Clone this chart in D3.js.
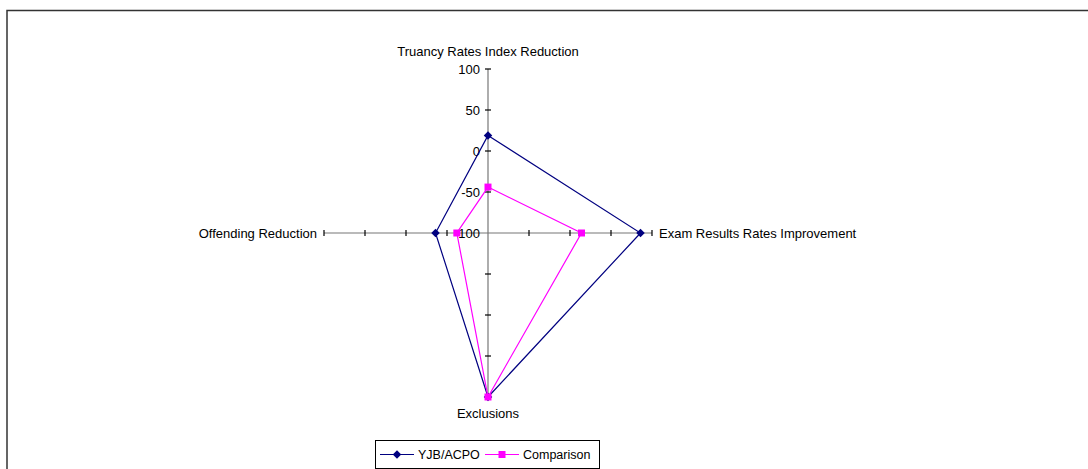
<!DOCTYPE html>
<html lang="en">
<head>
	<meta charset="utf-8">
	<script src="https://d3js.org/d3.v7.min.js"></script>
	<style>
		body { margin: 0; background: #fff; }
		text { font-family: "Liberation Sans", Arial, sans-serif; font-size: 13px; fill: #000; }
		.legendText { font-size: 12.5px; }
	</style>
</head>
<body>
<div id="chart"></div>
<script>

// data
var categories = ["Truancy Rates Index Reduction", "Exam Results Rates Improvement", "Exclusions", "Offending Reduction"];
var seriesNames = ["YJB/ACPO", "Comparison"];
var yjbValues = [19, 86, 100, -36];
var comparisonValues = [-44, 14, 100, -62];
var tickValues = [-100, -50, 0, 50, 100];

var width = 1088, height = 469;
var cx = 488, cy = 233, radius = 164;

var svg = d3.select("#chart")
	.append("svg")
	.attr("width", width)
	.attr("height", height);

// outer frame
svg.append("rect")
	.attr("x", 7)
	.attr("y", 10.5)
	.attr("width", width + 20)
	.attr("height", height + 20)
	.style("fill", "none")
	.style("stroke", "#333")
	.style("stroke-width", 1.5);

var r = d3.scaleLinear().domain([-100, 100]).range([0, radius]);
var angle = d3.scalePoint().domain(d3.range(categories.length)).range([0, 2 * Math.PI * 3 / 4]);

function pt(i, v) {
	var a = angle(i);
	return [cx + r(v) * Math.sin(a), cy - r(v) * Math.cos(a)];
}

// square-ish diamond like the excel marker
var excelDiamond = {
	draw: function(context, size) {
		var s = Math.sqrt(size) / 2;
		context.moveTo(0, -s);
		context.lineTo(s, 0);
		context.lineTo(0, s);
		context.lineTo(-s, 0);
		context.closePath();
	}
};

var g = svg.append("g");

// axes
categories.forEach(function(c, i) {
	var end = pt(i, 100);
	g.append("line")
		.attr("x1", cx).attr("y1", cy)
		.attr("x2", end[0]).attr("y2", end[1])
		.style("stroke", "#777")
		.style("stroke-width", 1.2);

	tickValues.forEach(function(t) {
		if (t === -100) return;
		var p = pt(i, t);
		var a = angle(i);
		var dx = Math.cos(a) * 3, dy = Math.sin(a) * 3;
		g.append("line")
			.attr("x1", p[0] - dx).attr("y1", p[1] - dy)
			.attr("x2", p[0] + dx).attr("y2", p[1] + dy)
			.style("stroke", "#000")
			.style("stroke-width", 1.2);
	});
});

// tick labels on the first axis
g.selectAll(".tickLabel")
	.data(tickValues)
	.enter()
	.append("text")
	.attr("x", cx - 8)
	.attr("y", function(d) { return pt(0, d)[1]; })
	.attr("dy", "0.35em")
	.attr("text-anchor", "end")
	.text(function(d) { return d; });

// category labels
var labelPos = [
	{x: cx, y: 56, anchor: "middle"},
	{x: 659, y: cy + 5, anchor: "start"},
	{x: cx, y: 418, anchor: "middle"},
	{x: 317, y: cy + 5, anchor: "end"}
];
g.selectAll(".catLabel")
	.data(categories)
	.enter()
	.append("text")
	.attr("x", function(d, i) { return labelPos[i].x; })
	.attr("y", function(d, i) { return labelPos[i].y; })
	.attr("text-anchor", function(d, i) { return labelPos[i].anchor; })
	.text(function(d) { return d; });

// series
var series = [
	{name: seriesNames[0], values: yjbValues, color: "#000080", symbol: excelDiamond, size: 72},
	{name: seriesNames[1], values: comparisonValues, color: "#FF00FF", symbol: d3.symbolSquare, size: 49}
];

var line = d3.line().curve(d3.curveLinearClosed);

series.forEach(function(s) {
	var pts = s.values.map(function(v, i) { return pt(i, v); });
	g.append("path")
		.attr("d", line(pts))
		.style("fill", "none")
		.style("stroke", s.color)
		.style("stroke-width", 1.2);
	g.selectAll(null)
		.data(pts)
		.enter()
		.append("path")
		.attr("transform", function(d) { return "translate(" + d[0] + "," + d[1] + ")"; })
		.attr("d", d3.symbol().type(s.symbol).size(s.size))
		.style("fill", s.color);
});

// legend
var legend = svg.append("g");
legend.append("rect")
	.attr("x", 375.5).attr("y", 440.5)
	.attr("width", 224).attr("height", 28)
	.style("fill", "#fff")
	.style("stroke", "#000")
	.style("stroke-width", 1);

var legendX = [380, 485];
series.forEach(function(s, i) {
	var x0 = legendX[i];
	legend.append("line")
		.attr("x1", x0).attr("y1", 454.5)
		.attr("x2", x0 + 34).attr("y2", 454.5)
		.style("stroke", s.color)
		.style("stroke-width", 1.2);
	legend.append("path")
		.attr("transform", "translate(" + (x0 + 17) + ",454.5)")
		.attr("d", d3.symbol().type(s.symbol).size(s.size))
		.style("fill", s.color);
	legend.append("text")
		.attr("class", "legendText")
		.attr("x", x0 + 38)
		.attr("y", 459)
		.text(s.name);
});

</script>
</body>
</html>
